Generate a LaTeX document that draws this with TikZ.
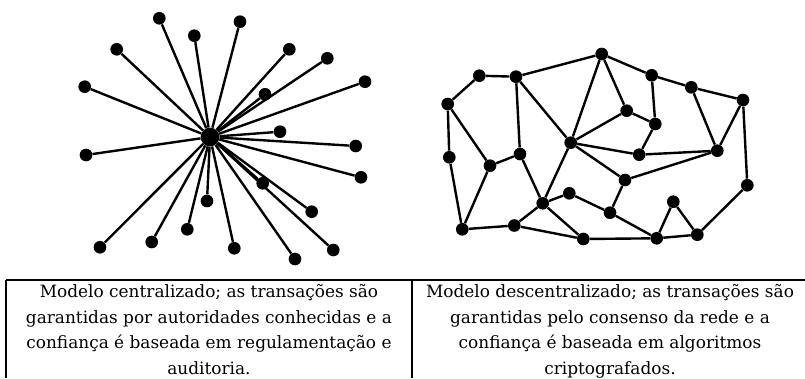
\documentclass[tikz,border=0pt]{standalone}
\usepackage{tikz}
\usepackage{fontspec}
\setmainfont{DejaVu Serif}

\tikzset{
	dot/.style={circle, fill=black, inner sep=0pt, minimum size=9.5pt},
	hub/.style={circle, fill=black, inner sep=0pt, minimum size=14pt},
	link/.style={line width=1.8pt},
	rule/.style={line width=1.5pt},
	cell/.style={align=center, inner sep=0pt, anchor=north,
		font=\fontsize{12.7}{19.3}\selectfont}
}

\begin{document}
\begin{tikzpicture}[x=0.75pt,y=0.75pt,yscale=-1,xscale=1]
\useasboundingbox (0,0) rectangle (805,378);

% centralized network: one hub and its clients
\node[hub] (hub) at (210,137) {};
\node[dot] (l1) at (159.3,18.3) {};
\node[dot] (l2) at (194.3,35.7) {};
\node[dot] (l3) at (240,21.7) {};
\node[dot] (l4) at (116.7,49.3) {};
\node[dot] (l5) at (289.3,49.3) {};
\node[dot] (l6) at (327.3,58.3) {};
\node[dot] (l7) at (84.7,86.7) {};
\node[dot] (l8) at (265,94.3) {};
\node[dot] (l9) at (365,81.7) {};
\node[dot] (l10) at (280,131.7) {};
\node[dot] (l11) at (86,155) {};
\node[dot] (l12) at (355.7,146) {};
\node[dot] (l13) at (361,177.3) {};
\node[dot] (l14) at (262.7,183.3) {};
\node[dot] (l15) at (207,201) {};
\node[dot] (l16) at (311.7,211.7) {};
\node[dot] (l17) at (187.3,229.3) {};
\node[dot] (l18) at (151.7,242) {};
\node[dot] (l19) at (100,247.3) {};
\node[dot] (l20) at (234.3,248.3) {};
\node[dot] (l21) at (295,259) {};
\node[dot] (l22) at (333.3,250) {};

\draw[link] (hub) -- (l1);  \draw[link] (hub) -- (l2);
\draw[link] (hub) -- (l3);  \draw[link] (hub) -- (l4);
\draw[link] (hub) -- (l5);  \draw[link] (hub) -- (l6);
\draw[link] (hub) -- (l7);  \draw[link] (hub) -- (l8);
\draw[link] (hub) -- (l9);  \draw[link] (hub) -- (l10);
\draw[link] (hub) -- (l11); \draw[link] (hub) -- (l12);
\draw[link] (hub) -- (l13); \draw[link] (hub) -- (l14);
\draw[link] (hub) -- (l15); \draw[link] (hub) -- (l16);
\draw[link] (hub) -- (l17); \draw[link] (hub) -- (l18);
\draw[link] (hub) -- (l19); \draw[link] (hub) -- (l20);
\draw[link] (hub) -- (l21); \draw[link] (hub) -- (l22);

% decentralized network: peers linked to their neighbours
\node[dot] (a) at (601.7,54) {};
\node[dot] (b) at (479.3,75.7) {};
\node[dot] (c) at (516,76.7) {};
\node[dot] (d) at (651.7,75.3) {};
\node[dot] (e) at (691.3,87.3) {};
\node[dot] (f) at (743,100) {};
\node[dot] (g) at (447.7,104) {};
\node[dot] (h) at (626.7,110.7) {};
\node[dot] (i) at (655.3,124) {};
\node[dot] (j) at (570.7,142.7) {};
\node[dot] (k) at (449.3,157.3) {};
\node[dot] (l) at (520,154) {};
\node[dot] (m) at (490,165.7) {};
\node[dot] (n) at (639.2,154.7) {};
\node[dot] (o) at (717.3,150.7) {};
\node[dot] (p) at (625,180) {};
\node[dot] (q) at (747.3,185.3) {};
\node[dot] (r) at (569.3,193.3) {};
\node[dot] (s) at (542.7,203.3) {};
\node[dot] (t) at (673.3,201.7) {};
\node[dot] (u) at (610,212.7) {};
\node[dot] (v) at (462.3,229.3) {};
\node[dot] (w) at (514.3,225.5) {};
\node[dot] (x) at (583.3,239) {};
\node[dot] (y) at (656.7,238.3) {};
\node[dot] (z) at (697.3,234.7) {};

% outer ring
\draw[link] (g) -- (b) -- (c) -- (a) -- (d) -- (e) -- (f) -- (q) -- (z) -- (y) -- (x) -- (w) -- (v) -- (k) -- (g);
% inner links
\draw[link] (g) -- (m) -- (v);
\draw[link] (m) -- (l) -- (c) -- (j);
\draw[link] (l) -- (s) -- (j) -- (a) -- (h) -- (i) -- (d);
\draw[link] (j) -- (h);
\draw[link] (i) -- (n) -- (j);
\draw[link] (e) -- (o) -- (n);
\draw[link] (f) -- (o) -- (p) -- (j);
\draw[link] (p) -- (u) -- (r) -- (s);
\draw[link] (u) -- (y);
\draw[link] (w) -- (s) -- (x);
\draw[link] (y) -- (t) -- (z);

% caption table
\coordinate (tl) at (6,280);
\coordinate (tm) at (412,280);
\coordinate (tr) at (805,280);
\coordinate (bl) at (6,378);
\coordinate (bm) at (412,378);
\draw[rule] (tl) -- (tr);
\draw[rule] (tl) -- (bl);
\draw[rule] (tm) -- (bm);

\node[cell] (capl) at (209,284) {Modelo centralizado; as transações são\\
	garantidas por autoridades conhecidas e a\\
	confiança é baseada em regulamentação e\\
	auditoria.};
\node[cell] (capr) at (610,284) {Modelo descentralizado; as transações são\\
	garantidas pelo consenso da rede e a\\
	confiança é baseada em algoritmos\\
	criptografados.};
\end{tikzpicture}
\end{document}
